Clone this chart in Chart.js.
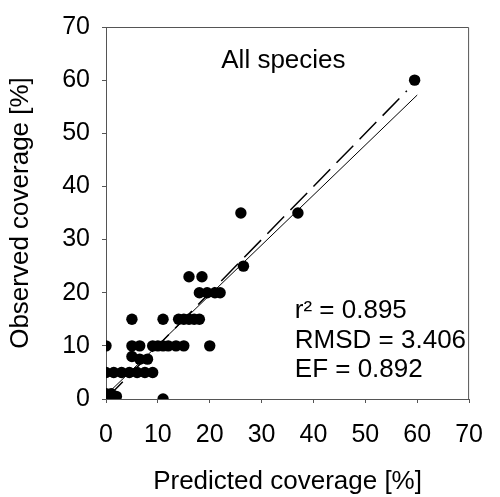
<!DOCTYPE html>
<html>
<head>
<meta charset="utf-8">
<script src="https://cdn.jsdelivr.net/npm/chart.js@4.4.1/dist/chart.umd.min.js"></script>
<style>
  html, body { margin: 0; padding: 0; background: #fff; }
  #wrap { width: 500px; height: 497px; }
</style>
</head>
<body>
<div id="wrap"><canvas id="coverChart"></canvas></div>
<script>
// predicted vs observed coverage, all species
const predicted = [0, 0.5, 1, 1.5, 2, 0, 1, 11,
  0, 1.5, 3, 4.5, 6, 7.5, 9,
  5, 6.5, 8,
  0, 5, 6.5, 9, 10, 11, 12, 13.5, 15, 20,
  5, 11, 14, 15, 16, 17, 18,
  16, 18.5,
  18, 19.5, 21, 22,
  26.5, 26, 37, 59.5];
const observed = [0, 0.5, 0, 0, 0.5, 1, 1, 0,
  5, 5, 5, 5, 5, 5, 5,
  8, 7.5, 7.5,
  10, 10, 10, 10, 10, 10, 10, 10, 10, 10,
  15, 15, 15, 15, 15, 15, 15,
  23, 23,
  20, 20, 20, 20,
  25, 35, 35, 60];

// fitted regression line and 1:1 line end points
const fitX = [0.5, 60];
const fitY = [1.2, 57.2];
const oneX = [0, 58];
const oneY = [0, 58];

const xTicks = [0, 10, 20, 30, 40, 50, 60, 70];
const yTicks = [0, 10, 20, 30, 40, 50, 60, 70];

const stats = ['r\u00b2 = 0.895', 'RMSD = 3.406', 'EF = 0.892'];
const panelTitle = 'All species';

const FONT = 'Arial, "Liberation Sans", sans-serif';
const AXIS = '#555555';

const toPts = (xs, ys) => xs.map((x, i) => ({ x: x, y: ys[i] }));

// box round the plot plus the text labels inside it
const frameAndText = {
  id: 'frameAndText',
  afterDraw(chart) {
    const { ctx, chartArea: a, scales } = chart;
    ctx.save();
    ctx.strokeStyle = AXIS;
    ctx.lineWidth = 1;
    ctx.beginPath();
    ctx.moveTo(a.left, a.top + 0.5);
    ctx.lineTo(a.right - 0.5, a.top + 0.5);
    ctx.lineTo(a.right - 0.5, a.bottom);
    ctx.stroke();

    ctx.fillStyle = '#000';
    ctx.font = '26px ' + FONT;
    ctx.textBaseline = 'middle';
    ctx.textAlign = 'center';
    ctx.fillText(panelTitle, scales.x.getPixelForValue(34.2), scales.y.getPixelForValue(63.7));

    ctx.textAlign = 'left';
    const sx = scales.x.getPixelForValue(36.4);
    stats.forEach((s, i) => {
      ctx.fillText(s, sx, scales.y.getPixelForValue(16.5 - i * 5.5));
    });
    ctx.restore();
  }
};

new Chart(document.getElementById('coverChart'), {
  type: 'scatter',
  data: {
    datasets: [
      {
        label: 'species',
        data: toPts(predicted, observed),
        backgroundColor: '#000',
        borderWidth: 0,
        pointRadius: 5.7,
        order: 1
      },
      {
        type: 'line',
        label: 'fit',
        data: toPts(fitX, fitY),
        borderColor: '#000',
        borderWidth: 1,
        pointRadius: 0,
        fill: false,
        order: 2
      },
      {
        type: 'line',
        label: '1:1',
        data: toPts(oneX, oneY),
        borderColor: '#000',
        borderWidth: 1.5,
        borderDash: [24, 9],
        pointRadius: 0,
        fill: false,
        order: 3
      }
    ]
  },
  options: {
    responsive: true,
    maintainAspectRatio: false,
    animation: false,
    layout: { padding: { top: 21, right: 15, left: 0, bottom: 0 } },
    plugins: {
      legend: { display: false },
      tooltip: { enabled: false }
    },
    scales: {
      x: {
        type: 'linear',
        min: 0,
        max: 70,
        afterBuildTicks: s => { s.ticks = xTicks.map(v => ({ value: v })); },
        afterFit: s => { s.height = 98; },
        border: { color: AXIS, width: 1 },
        grid: { drawOnChartArea: false, drawTicks: true, tickLength: 4, color: AXIS },
        ticks: { color: '#000', font: { family: FONT, size: 25 }, padding: 17, maxRotation: 0 },
        title: {
          display: true,
          text: 'Predicted coverage [%]',
          color: '#000',
          font: { family: FONT, size: 26 },
          padding: { top: 0, bottom: 0 }
        }
      },
      y: {
        type: 'linear',
        min: 0,
        max: 70,
        afterBuildTicks: s => { s.ticks = yTicks.map(v => ({ value: v })); },
        afterFit: s => { s.width = 106; },
        border: { color: AXIS, width: 1 },
        grid: { drawOnChartArea: false, drawTicks: true, tickLength: 4, color: AXIS },
        ticks: { color: '#000', font: { family: FONT, size: 25 }, padding: 12 },
        title: {
          display: true,
          text: 'Observed coverage [%]',
          color: '#000',
          font: { family: FONT, size: 26 },
          padding: { top: 5, bottom: 0 }
        }
      }
    }
  },
  plugins: [frameAndText]
});
</script>
</body>
</html>
